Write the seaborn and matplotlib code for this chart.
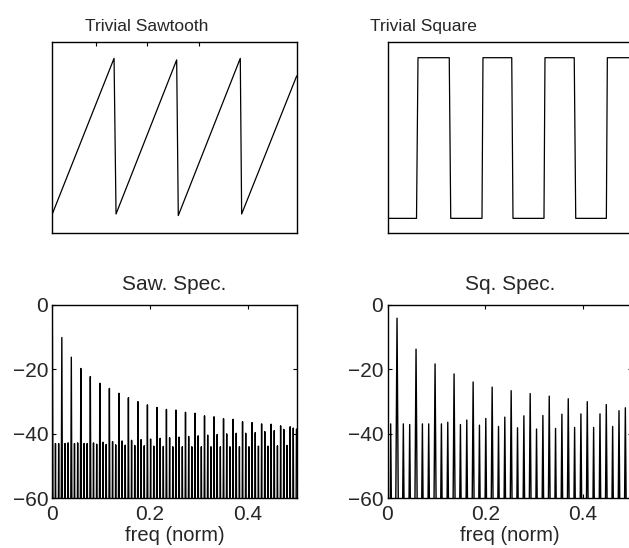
import matplotlib
matplotlib.use("Agg")
import matplotlib.pyplot as plt
import pandas as pd
import seaborn as sns

sns.set_theme(style="white")
plt.rcParams['font.family'] = ['Liberation Sans', 'DejaVu Sans']

# ---------------- data ----------------
# Trivial sawtooth: vertices (sample index, amplitude)
saw_n = [0, 49.8, 51.4, 100.3, 101.6, 151.6, 152.7, 197.1]
saw_v = [0.0, 1.0, 0.0, 0.99, -0.01, 1.0, 0.0, 0.887]

# Trivial square: vertices (sample index, amplitude)
sq_n = [0, 23.4, 24.6, 49.8, 51.0, 76.2, 77.0, 100.2, 101.2, 126.2, 127.0,
        150.6, 151.8, 176.5, 177.3, 200.0]
sq_v = [0, 0, 1, 1, 0, 0, 1, 1, 0, 0, 1, 1, 0, 0, 1, 1]

# spectral line positions (normalised frequency)
freq = [0.0, .0065, .0130, .0195, .0260, .0324, .0389, .0454, .0519, .0584,
        .0649, .0714, .0778, .0843, .0908, .0973, .1038, .1103, .1168, .1233,
        .1297, .1362, .1427, .1492, .1557, .1622, .1687, .1752, .1816, .1881,
        .1946, .2011, .2076, .2141, .2206, .2271, .2335, .2400, .2465, .2530,
        .2595, .2660, .2725, .2790, .2854, .2919, .2984, .3049, .3114, .3179,
        .3244, .3309, .3373, .3438, .3503, .3568, .3633, .3698, .3763, .3828,
        .3892, .3957, .4022, .4087, .4152, .4217, .4282, .4347, .4411, .4476,
        .4541, .4606, .4671, .4736, .4801, .4866, .4930, .4995]

# sawtooth spectrum peak levels (dB), one per line position
saw_db = [0.0,
          -43.0, -43.0, -10.1, -43.0, -42.8, -16.2, -43.0, -42.8, -19.7,
          -43.0, -43.0, -22.2, -42.8, -43.2, -24.3, -42.6, -43.3, -25.9,
          -42.4, -43.4, -27.4, -42.2, -43.5, -28.8, -42.0, -43.6, -30.0,
          -41.8, -43.7, -31.0, -41.6, -43.8, -31.8, -41.4, -43.9, -32.4,
          -41.2, -44.0, -32.6, -41.0, -44.0, -33.3, -40.8, -44.0, -33.6,
          -40.6, -44.0, -34.4, -40.4, -44.0, -34.7, -40.2, -44.0, -35.3,
          -40.0, -44.0, -35.5, -39.8, -44.0, -36.2, -39.8, -44.0, -36.5,
          -39.6, -43.8, -36.9, -39.3, -43.8, -37.0, -39.0, -43.7, -37.5,
          -38.6, -43.6, -37.8, -38.2, -38.5]

# square spectrum: line positions (DC and odd lines) and their levels (dB)
sq_idx = [0, 1, 3, 5, 7, 9, 11, 13, 15, 17, 19, 21, 23, 25, 27, 29, 31, 33,
          35, 37, 39, 41, 43, 45, 47, 49, 51, 53, 55, 57, 59, 61, 63, 65, 67,
          69, 71, 73, 75, 77]
sq_db = [0.0, -36.9, -4.1, -36.9, -37.1, -13.7, -36.9, -36.9, -18.3, -36.9,
         -36.4, -21.4, -37.1, -35.7, -23.9, -37.3, -35.2, -25.5, -37.7, -34.8,
         -26.6, -38.1, -34.4, -27.5, -38.5, -34.3, -28.3, -38.3, -33.9, -29.1,
         -38.0, -33.8, -30.0, -38.0, -33.8, -30.9, -37.7, -32.8, -31.9, -31.5]

FLOOR_DB = -150.0   # level of the nulls between lines (far below the axis)


def spike_frame(f, db):
    xs, ys = [], []
    for i in range(len(f)):
        xs.append(f[i]); ys.append(db[i])
        if i + 1 < len(f):
            xs.append((f[i] + f[i + 1]) / 2); ys.append(FLOOR_DB)
    return pd.DataFrame({"f": xs, "db": ys})


saw_df = pd.DataFrame({"n": saw_n, "v": saw_v})
sq_df = pd.DataFrame({"n": sq_n, "v": sq_v})
saw_spec = spike_frame(freq, saw_db)
sq_spec = spike_frame([freq[i] for i in sq_idx], sq_db)

# ---------------- figure ----------------
fig = plt.figure(figsize=(6.29, 5.48), dpi=100)
W, H = 629, 548


def axes_px(l, t, r, b):
    return fig.add_axes([l / W, 1 - b / H, (r - l) / W, (b - t) / H])


ax1 = axes_px(52.3, 41.7, 296.7, 233.3)
ax2 = axes_px(387.5, 41.7, 631.9, 233.3)
ax3 = axes_px(52.3, 305.0, 296.7, 498.3)
ax4 = axes_px(387.5, 305.0, 631.9, 498.3)

lw = 1.0
sns.lineplot(data=saw_df, x="n", y="v", ax=ax1, color="black", lw=0.9,
             sort=False, estimator=None)
sns.lineplot(data=sq_df, x="n", y="v", ax=ax2, color="black", lw=0.9,
             sort=False, estimator=None)
sns.lineplot(data=saw_spec, x="f", y="db", ax=ax3, color="black", lw=lw,
             sort=False, estimator=None)
sns.lineplot(data=sq_spec, x="f", y="db", ax=ax4, color="black", lw=lw,
             sort=False, estimator=None)

ax1.set_xlim(0, 197.1)
ax1.set_ylim(-0.124, 1.107)
ax2.set_xlim(0, 197.1)
ax2.set_ylim(-0.093, 1.0996)

for ax in (ax1, ax2):
    ax.set_yticks([])
    ax.set_xlabel(""); ax.set_ylabel("")
ax1.set_xticks([35.2, 76.4, 118.3])
ax1.set_xticklabels([])
ax1.tick_params(axis="x", direction="in", length=3, width=0.8,
                bottom=False, top=True, labelbottom=False, labeltop=False,
                color="black")
ax2.set_xticks([])

for ax in (ax3, ax4):
    ax.set_xlim(0, 0.5)
    ax.set_ylim(-60, 0)
    ax.set_xticks([0, 0.2, 0.4])
    ax.set_xticklabels(["0", "0.2", "0.4"])
    ax.set_yticks([-60, -40, -20, 0])
    ax.set_yticklabels(["\u221260", "\u221240", "\u221220", "0"])
    ax.tick_params(axis="both", direction="in", length=3, width=0.8,
                   color="black", labelsize=15,
                   top=True, right=True, bottom=True, left=True)
    ax.tick_params(axis="x", pad=5)
    ax.tick_params(axis="y", pad=3)
    ax.set_xlabel("freq (norm)", fontsize=14.5, labelpad=1)
    ax.set_ylabel("")

for ax in (ax1, ax2, ax3, ax4):
    for s in ax.spines.values():
        s.set_color("black")
        s.set_linewidth(1.0)
    ax.set_facecolor("white")

ax1.set_title("Trivial Sawtooth", fontsize=12.5, x=0.385, pad=8)
ax2.set_title("Trivial Square", fontsize=12.5, x=0.149, pad=8)
ax3.set_title("Saw. Spec.", fontsize=15, pad=11)
ax4.set_title("Sq. Spec.", fontsize=15, pad=11)

fig.savefig("out.png", dpi=100, facecolor="white")
